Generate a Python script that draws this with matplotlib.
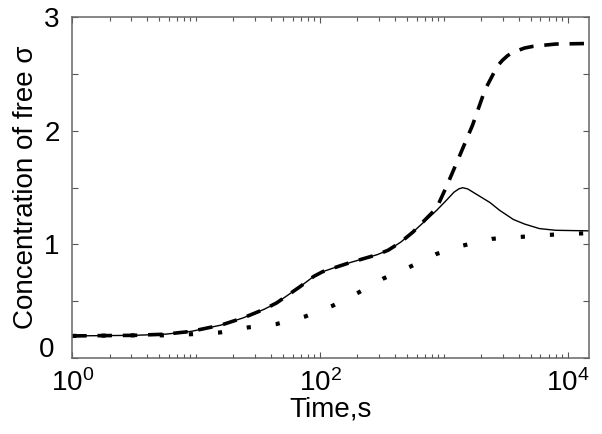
import numpy as np
import matplotlib
matplotlib.use("Agg")
import matplotlib.pyplot as plt
import matplotlib.transforms as mtransforms
from matplotlib.ticker import FixedLocator, FuncFormatter, LogLocator, NullFormatter

plt.rcParams["font.family"] = ["Liberation Sans", "DejaVu Sans"]
plt.rcParams["mathtext.fontset"] = "custom"
plt.rcParams["mathtext.rm"] = "Liberation Sans"
plt.rcParams["mathtext.it"] = "Liberation Sans:italic"

solid_logt = [0.0, 0.5, 0.75, 0.96, 1.2, 1.38, 1.55, 1.65, 1.84, 1.95, 2.02, 2.1,
              2.24, 2.46, 2.55, 2.65, 2.75, 2.94, 3.02, 3.08, 3.12, 3.15, 3.19,
              3.25, 3.31, 3.37, 3.45, 3.56, 3.65, 3.77, 3.9, 4.17]
solid_c = [0.195, 0.20, 0.21, 0.235, 0.29, 0.354, 0.43, 0.486, 0.63, 0.72, 0.76, 0.79,
           0.84, 0.91, 0.95, 1.02, 1.11, 1.30, 1.39, 1.46, 1.49, 1.50, 1.49,
           1.45, 1.41, 1.37, 1.30, 1.22, 1.18, 1.14, 1.125, 1.12]

dashed_logt = [0.0, 0.5, 0.75, 0.96, 1.2, 1.38, 1.55, 1.65, 1.84, 1.95, 2.02, 2.1,
               2.24, 2.46, 2.55, 2.65, 2.75, 2.94, 3.02, 3.11, 3.23, 3.33, 3.43,
               3.47, 3.51, 3.55, 3.6, 3.65, 3.72, 3.9, 4.17]
dashed_c = [0.195, 0.20, 0.21, 0.235, 0.29, 0.354, 0.43, 0.486, 0.63, 0.72, 0.76, 0.79,
            0.84, 0.91, 0.95, 1.02, 1.11, 1.32, 1.51, 1.74, 2.05, 2.36, 2.57,
            2.62, 2.66, 2.69, 2.71, 2.73, 2.745, 2.765, 2.77]

dotted_logt = [0.0, 0.5, 0.75, 0.96, 1.19, 1.42, 1.65, 1.88, 2.10, 2.31, 2.51, 2.73,
               2.94, 3.15, 3.39, 3.62, 3.85, 4.17]
dotted_c = [0.195, 0.20, 0.20, 0.21, 0.225, 0.27, 0.30, 0.366, 0.46, 0.577, 0.70, 0.806,
            0.917, 0.99, 1.05, 1.067, 1.085, 1.10]

fig = plt.figure(figsize=(6.02, 4.34), dpi=100)
ax = fig.add_axes([0.12, 0.175, 0.858, 0.785])

ax.plot(10 ** np.array(solid_logt), solid_c, color="black", lw=1.0)
ax.plot(10 ** np.array(dashed_logt), dashed_c, color="black", lw=2.6,
        dashes=(4, 3), dash_capstyle="butt")
ax.plot(10 ** np.array(dotted_logt), dotted_c, color="black", lw=3.0,
        dashes=(1, 6), dash_capstyle="butt")

ax.set_xscale("log")
ax.set_xlim(1, 10 ** 4.168)
ax.set_ylim(0, 3)

ax.xaxis.set_major_locator(FixedLocator([1, 1e2, 1e4]))
ax.xaxis.set_minor_locator(LogLocator(base=10, subs=np.arange(1, 10), numticks=20))
ax.xaxis.set_minor_formatter(NullFormatter())
ax.yaxis.set_major_locator(FixedLocator(np.arange(0, 3.01, 0.5)))
# the "0" label sits a little higher, as in the original
ax.yaxis.set_major_formatter(FuncFormatter(lambda v, p: f"{int(v)}" if v == int(v) and v > 0 else ""))
ax.text(0, 0, "0", fontsize=20, ha="right", va="center",
        transform=ax.get_yaxis_transform() + mtransforms.ScaledTranslation(-13 / 72, 6 / 72, fig.dpi_scale_trans))

ax.tick_params(which="both", direction="in", top=True, right=True,
               color="#555555", labelsize=20, width=0.8)
ax.tick_params(which="major", length=4, pad=8)
ax.tick_params(which="minor", length=3)
ax.tick_params(axis="y", pad=9)
for s in ax.spines.values():
    s.set_color("#666666")
    s.set_linewidth(1.1)

ax.set_xlabel("Time,s", fontsize=20, labelpad=0)
ax.set_ylabel("Concentration of free σ", fontsize=20, labelpad=4)

fig.savefig("out.png", dpi=100)
